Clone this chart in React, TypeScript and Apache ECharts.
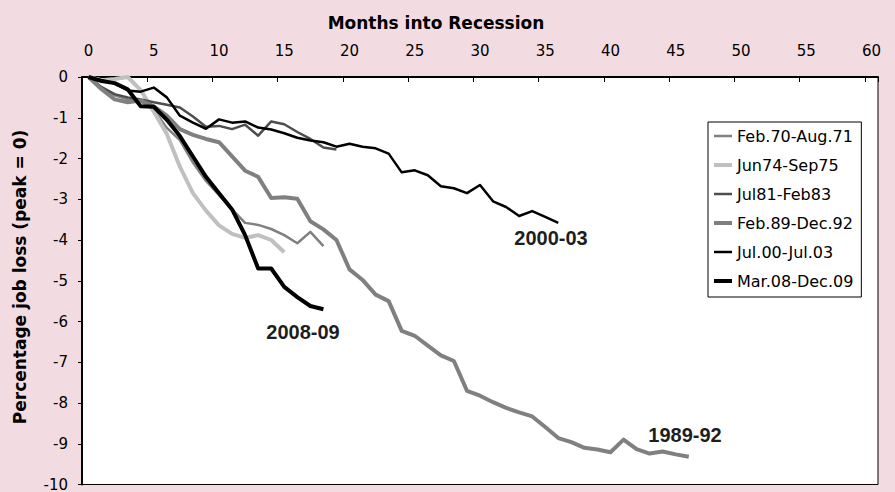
import React, { useEffect, useRef } from "react";
import * as echarts from "echarts";

// Months into recession (category axis 0..60)
const months: string[] = Array.from({ length: 61 }, (_, i) => String(i));

const seriesNames = [
  "Feb.70-Aug.71",
  "Jun74-Sep75",
  "Jul81-Feb83",
  "Feb.89-Dec.92",
  "Jul.00-Jul.03",
  "Mar.08-Dec.09",
];

// Percentage job loss relative to peak, one value per month
const feb70 = [0, -0.25, -0.45, -0.55, -0.6, -0.8, -1.25, -1.55, -2.1, -2.55, -2.9, -3.25, -3.58, -3.63, -3.73, -3.88, -4.08, -3.8, -4.15];
const jun74 = [0, -0.08, -0.05, 0.0, -0.32, -0.85, -1.4, -2.2, -2.85, -3.28, -3.64, -3.85, -3.95, -3.88, -4.0, -4.3];
const jul81 = [0, -0.25, -0.42, -0.5, -0.55, -0.62, -0.68, -0.75, -0.97, -1.22, -1.2, -1.28, -1.17, -1.44, -1.09, -1.16, -1.35, -1.52, -1.73, -1.78];
const feb89 = [0, -0.3, -0.55, -0.62, -0.58, -0.72, -0.95, -1.28, -1.42, -1.52, -1.6, -1.95, -2.3, -2.45, -2.97, -2.95, -2.99, -3.54, -3.74, -4.0, -4.72, -4.98, -5.34, -5.5, -6.23, -6.35, -6.59, -6.83, -6.97, -7.7, -7.82, -7.98, -8.12, -8.23, -8.33, -8.59, -8.86, -8.96, -9.1, -9.14, -9.21, -8.9, -9.13, -9.24, -9.19, -9.26, -9.32];
const jul00 = [0, -0.08, -0.16, -0.33, -0.36, -0.26, -0.5, -0.95, -1.12, -1.27, -1.04, -1.12, -1.09, -1.24, -1.29, -1.38, -1.49, -1.56, -1.6, -1.71, -1.64, -1.71, -1.75, -1.88, -2.34, -2.29, -2.41, -2.68, -2.73, -2.85, -2.65, -3.05, -3.19, -3.41, -3.29, -3.43, -3.58];
const mar08 = [0, -0.1, -0.15, -0.3, -0.72, -0.73, -1.05, -1.45, -1.95, -2.45, -2.85, -3.25, -3.88, -4.7, -4.7, -5.15, -5.4, -5.62, -5.7];

const seriesData = [feb70, jun74, jul81, feb89, jul00, mar08];
const seriesColors = ["#808080", "#C0C0C0", "#4D4D4D", "#808080", "#000000", "#000000"];
const seriesWidths = [2.5, 4, 2.5, 4, 2.5, 4];

const FONT = "DejaVu Sans";

export default function App() {
  const ref = useRef<HTMLDivElement>(null);

  useEffect(() => {
    if (!ref.current) return;
    const chart = echarts.init(ref.current, null, { renderer: "svg" });
    const every5 = (i: number) => i % 5 === 0;
    chart.setOption({
      animation: false,
      backgroundColor: "#F2DCE1",
      grid: {
        left: 82,
        right: 17,
        top: 77,
        bottom: 4,
        show: true,
        backgroundColor: "#FFFFFF",
        borderColor: "#000000",
        borderWidth: 1,
      },
      legend: {
        orient: "vertical",
        left: 708,
        top: 122,
        itemWidth: 18,
        itemHeight: 14,
        itemGap: 13,
        padding: [6, 8, 8, 4],
        backgroundColor: "#FFFFFF",
        borderColor: "#000000",
        borderWidth: 1,
        selectedMode: false,
        itemStyle: { opacity: 0 },
        lineStyle: { width: "inherit" },
        textStyle: { fontFamily: FONT, fontSize: 16, color: "#000" },
        data: seriesNames,
      },
      xAxis: {
        type: "category",
        position: "top",
        data: months,
        boundaryGap: true,
        axisLine: { show: true, lineStyle: { color: "#000", width: 2 } },
        axisTick: { show: true, inside: true, length: 5, interval: every5, lineStyle: { color: "#000", width: 1 } },
        axisLabel: { interval: every5, margin: 19, fontFamily: FONT, fontSize: 15, color: "#000" },
        splitLine: { show: false },
      },
      yAxis: {
        type: "value",
        min: -10,
        max: 0,
        interval: 1,
        axisLine: { show: true, lineStyle: { color: "#000", width: 2 } },
        axisTick: { show: true, length: 4, lineStyle: { color: "#000", width: 1 } },
        axisLabel: { margin: 14, fontFamily: FONT, fontSize: 15, color: "#000" },
        splitLine: { show: false },
      },
      series: seriesNames.map((name, k) => ({
        name,
        type: "line",
        data: seriesData[k],
        symbol: "none",
        showSymbol: false,
        lineStyle: { color: seriesColors[k], width: seriesWidths[k], join: "round" },
        itemStyle: { color: seriesColors[k] },
      })),
      graphic: [
        {
          type: "text",
          x: 436,
          y: 23,
          style: { text: "Months into Recession", font: `bold 17px "${FONT}"`, fill: "#000", align: "center", verticalAlign: "middle" },
        },
        {
          type: "text",
          x: 20,
          y: 277,
          rotation: Math.PI / 2,
          style: { text: "Percentage job loss (peak = 0)", font: `bold 17px "${FONT}"`, fill: "#000", align: "center", verticalAlign: "middle" },
        },
        {
          type: "text",
          x: 551,
          y: 238,
          style: { text: "2000-03", font: 'bold 20px "Liberation Sans"', fill: "#1E1E1E", align: "center", verticalAlign: "middle" },
        },
        {
          type: "text",
          x: 303,
          y: 332,
          style: { text: "2008-09", font: 'bold 20px "Liberation Sans"', fill: "#1E1E1E", align: "center", verticalAlign: "middle" },
        },
        {
          type: "text",
          x: 685,
          y: 435,
          style: { text: "1989-92", font: 'bold 20px "Liberation Sans"', fill: "#1E1E1E", align: "center", verticalAlign: "middle" },
        },
      ],
    });
    return () => chart.dispose();
  }, []);

  return <div ref={ref} style={{ position: "fixed", left: 0, top: 0, width: 895, height: 492 }} />;
}
